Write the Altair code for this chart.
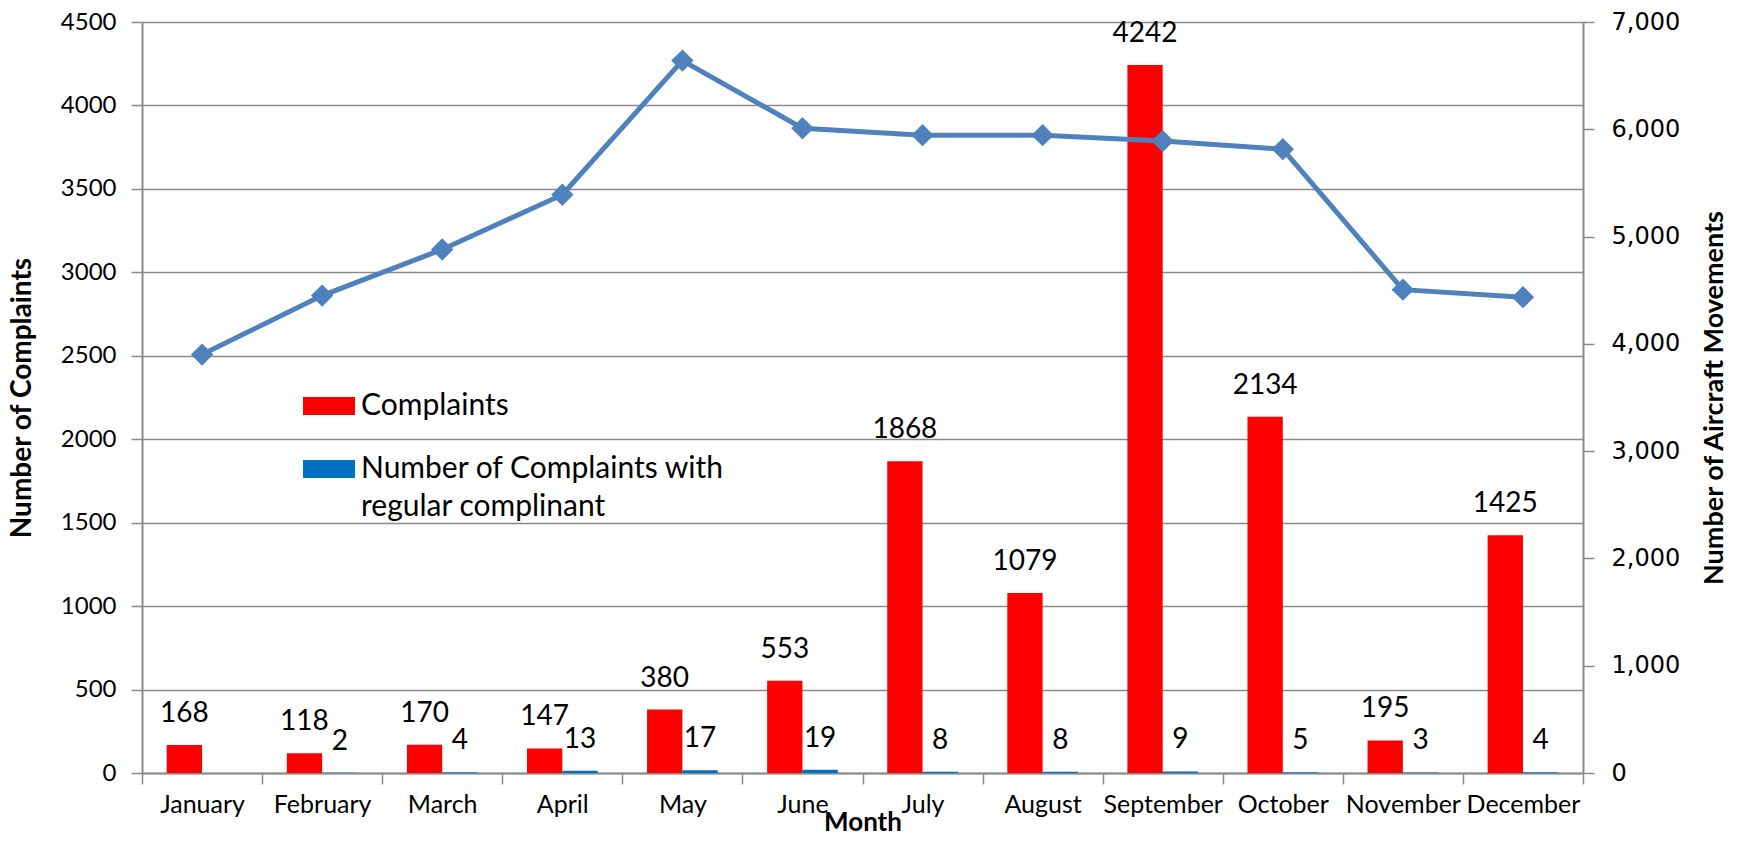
import altair as alt
import pandas as pd

months = ["January", "February", "March", "April", "May", "June", "July",
          "August", "September", "October", "November", "December"]
complaints = [168, 118, 170, 147, 380, 553, 1868, 1079, 4242, 2134, 195, 1425]
regular = [None, 2, 4, 13, 17, 19, 8, 8, 9, 5, 3, 4]
movements = [3900, 4450, 4880, 5390, 6640, 6010, 5945, 5945, 5890, 5815, 4505, 4435]
series_names = ["Complaints", "Number of Complaints with regular complinant"]
series_colors = ["#FF0000", "#0070C0"]
left_ticks = [0, 500, 1000, 1500, 2000, 2500, 3000, 3500, 4000, 4500]
right_ticks = [0, 1000, 2000, 3000, 4000, 5000, 6000, 7000]

rows = []
for m, c, r in zip(months, complaints, regular):
    rows.append({"month": m, "series": series_names[0], "value": c})
    rows.append({"month": m, "series": series_names[1], "value": r})
bars_df = pd.DataFrame(rows)
line_df = pd.DataFrame({"month": months, "movements": movements})

W, H = 1441, 751
GRAY = "#8a8a8a"

x_enc = alt.X(
    "month:N", sort=months,
    scale=alt.Scale(domain=months, paddingInner=0, paddingOuter=0),
    axis=alt.Axis(
        title="Month", labelAngle=0, tickBand="extent", grid=False,
        domainColor=GRAY, domainWidth=2, tickColor=GRAY, tickWidth=1.5, tickSize=11,
        labelFont="Lato", labelFontSize=25, labelColor="#000", labelPadding=8,
        titleFont="Lato", titleFontSize=26, titleFontWeight="bold", titleColor="#000",
        titleX=W / 2, titleY=49, titleBaseline="middle", titleAlign="center",
    ),
)
xoff = alt.XOffset(
    "series:N", sort=series_names,
    scale=alt.Scale(domain=series_names, paddingInner=0, paddingOuter=0.7),
)
y_left = alt.Y(
    "value:Q",
    scale=alt.Scale(domain=[0, 4500], nice=False),
    axis=alt.Axis(
        title="Number of Complaints", values=left_ticks, format="d",
        grid=True, gridColor=GRAY, gridWidth=1.5,
        domainColor=GRAY, domainWidth=2, tickColor=GRAY, tickWidth=1.5, tickSize=11,
        labelFont="Lato", labelFontSize=24, labelColor="#000", labelPadding=15,
        titleFont="Lato", titleFontSize=28, titleFontWeight="bold", titleColor="#000",
        titleAngle=270, titleX=-120, titleY=H / 2, titleBaseline="middle", titleAlign="center",
    ),
)

bars = alt.Chart(bars_df).mark_bar().encode(
    x=x_enc,
    xOffset=xoff,
    y=y_left,
    color=alt.Color(
        "series:N",
        scale=alt.Scale(domain=series_names, range=series_colors),
        legend=alt.Legend(
            title=None, orient="none", legendX=161, legendY=358,
            symbolType="M-1,-0.35H1V0.35H-1Z", symbolSize=2704, symbolStrokeWidth=0,
            symbolOpacity=1,
            labelFont="Lato", labelFontSize=30, labelColor="#000", labelLimit=700,
            labelOffset=6, rowPadding=22,
            labelExpr="datum.label == 'Complaints' ? 'Complaints' : ['Number of Complaints with', 'regular complinant']",
        ),
    ),
)

labels = alt.Chart(bars_df).transform_filter("isValid(datum.value)").mark_text(
    font="Lato", fontSize=28, color="#000", dy=-31, baseline="middle"
).encode(
    x=alt.X("month:N", sort=months),
    xOffset=alt.XOffset("series:N", sort=series_names),
    y=alt.Y("value:Q"),
    text=alt.Text("value:Q", format="d"),
)

y_right = alt.Y(
    "movements:Q",
    scale=alt.Scale(domain=[0, 7000], nice=False),
    axis=alt.Axis(
        orient="right", title="Number of Aircraft Movements", values=right_ticks, format=",.0f",
        grid=False, domainColor=GRAY, domainWidth=2, tickColor=GRAY, tickWidth=1.5, tickSize=11,
        labelFont="DejaVu Sans", labelFontSize=24, labelColor="#000", labelPadding=17,
        titleFont="Lato", titleFontSize=27, titleFontWeight="bold", titleColor="#000",
        titleAngle=270, titleX=131, titleY=H / 2, titleBaseline="middle", titleAlign="center",
    ),
)

line = alt.Chart(line_df).mark_line(color="#4F81BD", strokeWidth=5).encode(
    x=alt.X("month:N", sort=months),
    y=y_right,
)
points = alt.Chart(line_df).mark_point(
    shape="diamond", filled=True, size=500, color="#4F81BD", opacity=1
).encode(
    x=alt.X("month:N", sort=months),
    y=y_right,
)

left = alt.layer(bars, labels)
right = alt.layer(line, points)

chart = alt.layer(left, right).resolve_scale(y="independent").properties(
    width=W, height=H,
    autosize=alt.AutoSizeParams(type="none"),
    padding={"left": 134, "top": 14, "right": 146, "bottom": 64},
).configure(
    background="white",
    style={"guide-label": {"lineHeight": 38}},
).configure_view(stroke=None)

chart.save("out.html", embed_options={"renderer": "svg", "actions": False})
